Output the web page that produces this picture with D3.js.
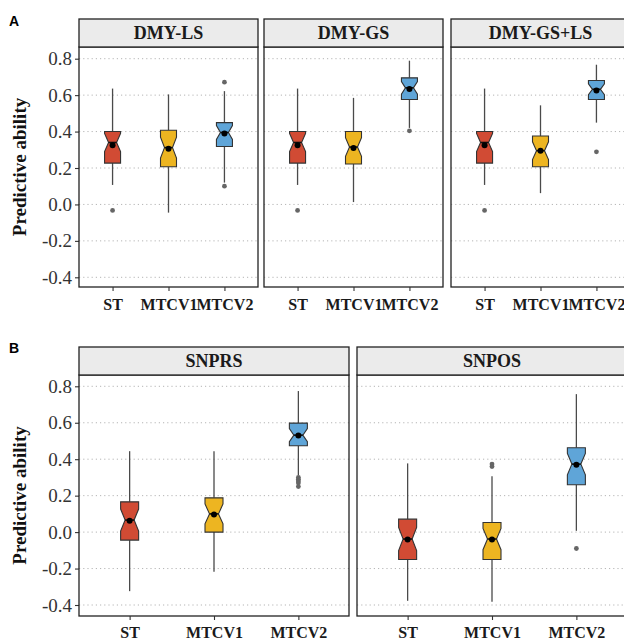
<!DOCTYPE html>
<html>
<head>
<meta charset="utf-8">
<script src="https://cdn.jsdelivr.net/npm/d3@7"></script>
<style>
  html, body { margin: 0; padding: 0; background: #fff; }
  svg { display: block; }
</style>
</head>
<body>
<svg id="chart" width="624" height="640"></svg>
<script>
// ---------------- DATA ----------------
const categories = ["ST", "MTCV1", "MTCV2"];
const panelsA = ["DMY-LS", "DMY-GS", "DMY-GS+LS"];
const panelsB = ["SNPRS", "SNPOS"];
const yTicks = [-0.4, -0.2, 0.0, 0.2, 0.4, 0.6, 0.8];
const yTickLabels = ["-0.4", "-0.2", "0.0", "0.2", "0.4", "0.6", "0.8"];
const yLabel = "Predictive ability";
const rowLabels = ["A", "B"];
const nReplicates = 30;

// five-number summaries per category: [lower whisker, Q1, median, Q3, upper whisker]
const statsDMYLS = [
  [0.107, 0.227, 0.340, 0.400, 0.636],
  [-0.045, 0.207, 0.312, 0.407, 0.604],
  [0.120, 0.318, 0.395, 0.449, 0.622]
];
const meansDMYLS = [0.325, 0.305, 0.390];
const outliersDMYLS = [[-0.033], [], [0.671, 0.100]];

const statsDMYGS = [
  [0.107, 0.227, 0.340, 0.400, 0.636],
  [0.013, 0.222, 0.315, 0.400, 0.585],
  [0.420, 0.576, 0.640, 0.695, 0.789]
];
const meansDMYGS = [0.325, 0.310, 0.633];
const outliersDMYGS = [[-0.033], [], [0.404]];

const statsDMYGSLS = [
  [0.107, 0.227, 0.340, 0.400, 0.636],
  [0.062, 0.207, 0.295, 0.376, 0.544],
  [0.449, 0.576, 0.632, 0.680, 0.767]
];
const meansDMYGSLS = [0.325, 0.295, 0.625];
const outliersDMYGSLS = [[-0.033], [], [0.289]];

const statsSNPRS = [
  [-0.324, -0.044, 0.066, 0.166, 0.444],
  [-0.218, 0.000, 0.100, 0.188, 0.444],
  [0.313, 0.474, 0.532, 0.598, 0.774]
];
const meansSNPRS = [0.062, 0.097, 0.530];
const outliersSNPRS = [[], [], [0.300, 0.290, 0.280, 0.270, 0.250]];

const statsSNPOS = [
  [-0.377, -0.150, -0.038, 0.071, 0.377],
  [-0.382, -0.150, -0.038, 0.053, 0.307],
  [0.007, 0.260, 0.373, 0.463, 0.757]
];
const meansSNPOS = [-0.040, -0.040, 0.370];
const outliersSNPOS = [[], [0.373, 0.360], [-0.090]];

// ---------------- STYLE ----------------
const fills = ["#D14B34", "#EDB521", "#5FA5D8"];
const SERIF = '"Liberation Serif", "DejaVu Serif", serif';
const SANS = '"Liberation Sans", "DejaVu Sans", sans-serif';

const svg = d3.select("#chart");

const rowA = { stripTop: 19, plotTop: 47, plotBottom: 287, yRange: [277.3, 58.7], boxW: 16, xLabelY: 310,
  panels: [
    { title: panelsA[0], x0: 79, x1: 258, stats: statsDMYLS, means: meansDMYLS, outliers: outliersDMYLS },
    { title: panelsA[1], x0: 264, x1: 443, stats: statsDMYGS, means: meansDMYGS, outliers: outliersDMYGS },
    { title: panelsA[2], x0: 451, x1: 630, stats: statsDMYGSLS, means: meansDMYGSLS, outliers: outliersDMYGSLS }
  ] };
const rowB = { stripTop: 347, plotTop: 375, plotBottom: 616, yRange: [605, 386.3], boxW: 18, xLabelY: 638,
  panels: [
    { title: panelsB[0], x0: 79, x1: 349, stats: statsSNPRS, means: meansSNPRS, outliers: outliersSNPRS },
    { title: panelsB[1], x0: 357, x1: 627, stats: statsSNPOS, means: meansSNPOS, outliers: outliersSNPOS }
  ] };

function drawRow(row, label, labelY) {
  const y = d3.scaleLinear().domain([-0.4, 0.8]).range(row.yRange);

  svg.append("text").attr("x", 9).attr("y", labelY)
    .style("font-family", SANS).style("font-weight", "bold").style("font-size", "14px")
    .attr("fill", "#000").text(label);

  const cy = (row.plotTop + row.plotBottom) / 2;
  svg.append("text")
    .attr("transform", `translate(26,${cy}) rotate(-90)`)
    .attr("text-anchor", "middle")
    .style("font-family", SERIF).style("font-weight", "bold").style("font-size", "19px")
    .attr("fill", "#111").text(yLabel);

  const x0 = row.panels[0].x0;
  const yAxis = d3.axisLeft(y).tickValues(yTicks).tickSize(4).tickPadding(3)
    .tickFormat((d, i) => yTickLabels[i]);
  const ga = svg.append("g").attr("transform", `translate(${x0},0)`).call(yAxis);
  ga.select(".domain").remove();
  ga.selectAll(".tick line").attr("stroke", "#333").attr("stroke-width", 1.1);
  ga.selectAll(".tick text")
    .style("font-family", SERIF).style("font-size", "19px")
    .attr("fill", "#333");

  row.panels.forEach(p => {
    const g = svg.append("g");
    const x = d3.scalePoint().domain(categories).range([p.x0, p.x1]).padding(0.6);

    g.selectAll(".grid").data(yTicks).enter().append("line")
      .attr("x1", p.x0).attr("x2", p.x1)
      .attr("y1", d => y(d)).attr("y2", d => y(d))
      .attr("stroke", "#b5b5b5").attr("stroke-width", 1).attr("stroke-dasharray", "1.2,3");

    categories.forEach((c, i) => {
      const [lw, q1, med, q3, uw] = p.stats[i];
      const cx = x(c);
      const hw = row.boxW / 2;
      const notch = 1.58 * (q3 - q1) / Math.sqrt(nReplicates);
      g.append("line").attr("x1", cx).attr("x2", cx).attr("y1", y(uw)).attr("y2", y(q3))
        .attr("stroke", "#4a4a4a").attr("stroke-width", 1.3);
      g.append("line").attr("x1", cx).attr("x2", cx).attr("y1", y(q1)).attr("y2", y(lw))
        .attr("stroke", "#4a4a4a").attr("stroke-width", 1.3);
      const nt = Math.min(q3, med + notch), nb = Math.max(q1, med - notch);
      const pts = [
        [cx - hw, y(q3)], [cx + hw, y(q3)], [cx + hw, y(nt)], [cx + hw / 2, y(med)],
        [cx + hw, y(nb)], [cx + hw, y(q1)], [cx - hw, y(q1)], [cx - hw, y(nb)],
        [cx - hw / 2, y(med)], [cx - hw, y(nt)]
      ];
      g.append("path").attr("d", d3.line()(pts) + "Z")
        .attr("fill", fills[i]).attr("stroke", "#333").attr("stroke-width", 1.1);
      g.append("line").attr("x1", cx - hw / 2).attr("x2", cx + hw / 2)
        .attr("y1", y(med)).attr("y2", y(med)).attr("stroke", "#111").attr("stroke-width", 1.6);
      p.outliers[i].forEach(o => {
        g.append("circle").attr("cx", cx).attr("cy", y(o)).attr("r", 2.4).attr("fill", "#666");
      });
      g.append("circle").attr("cx", cx).attr("cy", y(p.means[i])).attr("r", 3).attr("fill", "#000");
    });

    g.append("rect").attr("x", p.x0).attr("y", row.plotTop)
      .attr("width", p.x1 - p.x0).attr("height", row.plotBottom - row.plotTop)
      .attr("fill", "none").attr("stroke", "#222").attr("stroke-width", 1.3);
    g.append("rect").attr("x", p.x0).attr("y", row.stripTop)
      .attr("width", p.x1 - p.x0).attr("height", row.plotTop - row.stripTop)
      .attr("fill", "#EBEBEB").attr("stroke", "#222").attr("stroke-width", 1.3);
    g.append("text").attr("x", (p.x0 + p.x1) / 2)
      .attr("y", (row.stripTop + row.plotTop) / 2 + 6)
      .attr("text-anchor", "middle")
      .style("font-family", SERIF).style("font-weight", "bold").style("font-size", "18px")
      .attr("fill", "#1a1a1a").text(p.title);

    const xAxis = d3.axisBottom(x).tickSize(4).tickPadding(4);
    const gx = g.append("g").attr("transform", `translate(0,${row.plotBottom})`).call(xAxis);
    gx.select(".domain").remove();
    gx.selectAll(".tick line").attr("stroke", "#333").attr("stroke-width", 1.1);
    gx.selectAll(".tick text")
      .style("font-family", SERIF).style("font-weight", "bold").style("font-size", "16px")
      .attr("fill", "#1a1a1a")
      .attr("dy", null).attr("y", row.xLabelY - row.plotBottom);
  });
}

drawRow(rowA, rowLabels[0], 26);
drawRow(rowB, rowLabels[1], 353);
</script>
</body>
</html>
